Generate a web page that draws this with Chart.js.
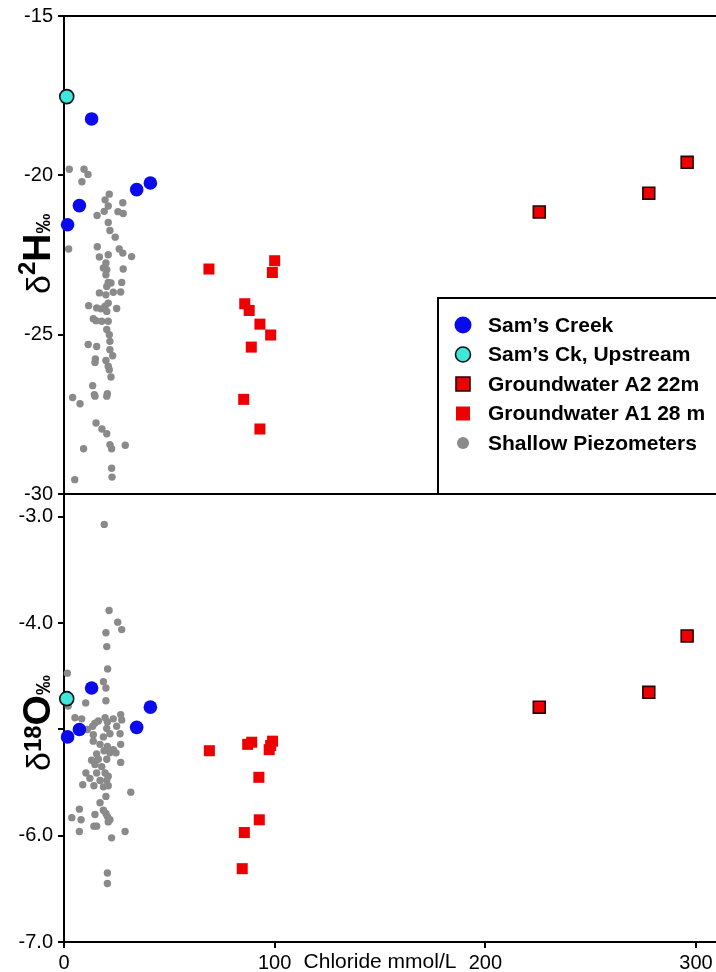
<!DOCTYPE html>
<html>
<head>
<meta charset="utf-8">
<script src="https://cdn.jsdelivr.net/npm/chart.js@4.4.1/dist/chart.umd.min.js"></script>
<style>
  body { margin: 0; background: #fff; }
  #wrap { position: relative; width: 716px; height: 972px; overflow: hidden; }
  canvas { position: absolute; left: 0; }
  #h-chart { top: -10px; }
  #o-chart { top: 470px; }
</style>
</head>
<body>
<div id="wrap">
  <canvas id="h-chart" width="716" height="530"></canvas>
  <canvas id="o-chart" width="716" height="502"></canvas>
</div>
<script>
// Sam's Creek surface water
var creekCl   = [13.1, 7.3, 1.7, 34.5, 41.0];
var creekD2H  = [-18.23, -20.95, -21.55, -20.45, -20.24];
var creekD18O = [-4.61, -5.00, -5.07, -4.98, -4.79];

// Sam's Ck upstream
var upstreamCl   = [1.3];
var upstreamD2H  = [-17.53];
var upstreamD18O = [-4.71];

// Groundwater A2 (22 m)
var a2Cl   = [225.6, 277.6, 295.8];
var a2D2H  = [-21.15, -20.56, -19.59];
var a2D18O = [-4.79, -4.65, -4.12];

// Groundwater A1 (28 m)
var a1ClH  = [68.8, 100.0, 98.9, 85.8, 87.9, 93.0, 98.1, 88.9, 85.3, 93.0];
var a1D2H  = [-22.94, -22.68, -23.05, -24.03, -24.24, -24.67, -25.01, -25.39, -27.03, -27.96];
var a1ClO  = [69.0, 87.2, 89.1, 99.0, 97.4, 98.1, 92.5, 92.7, 85.6, 84.6];
var a1D18O = [-5.20, -5.14, -5.12, -5.11, -5.19, -5.15, -5.45, -5.85, -5.97, -6.31];

// Shallow piezometers
var piezoClH = [2.5, 9.5, 11.4, 8.5, 21.5, 19.5, 21.0, 19.1, 27.9, 15.7,
  25.6, 28.1, 21.0, 21.8, 24.3, 2.2, 15.8, 26.2, 21.0, 27.9,
  16.8, 32.1, 19.9, 20.3, 18.7, 28.1, 19.9, 21.0, 22.3, 27.4,
  20.3, 16.8, 23.4, 26.9, 19.9, 11.7, 15.5, 17.6, 19.5, 21.0,
  20.3, 25.0, 13.9, 15.2, 17.9, 21.0, 20.3, 21.5, 11.5, 15.5,
  21.8, 21.8, 23.1, 14.9, 14.7, 19.9, 21.0, 21.5, 22.3, 13.6,
  14.4, 14.7, 20.6, 20.3, 4.1, 7.6, 15.2, 18.0, 20.3, 21.8,
  22.6, 29.1, 9.3, 22.6, 22.8, 5.1];
var piezoD2H = [-19.81, -19.81, -19.97, -20.20, -20.59, -20.77, -20.96, -21.13, -20.86, -21.26,
  -21.14, -21.20, -21.48, -21.73, -21.94, -22.31, -22.24, -22.31, -22.49, -22.44,
  -22.56, -22.55, -22.75, -22.96, -22.91, -22.94, -23.12, -23.36, -23.38, -23.36,
  -23.49, -23.69, -23.67, -23.66, -23.75, -24.09, -24.16, -24.19, -24.11, -24.01,
  -24.27, -24.18, -24.50, -24.56, -24.58, -24.58, -24.84, -25.00, -25.31, -25.37,
  -25.21, -25.47, -25.66, -25.76, -25.87, -25.81, -25.99, -26.10, -26.33, -26.60,
  -26.88, -26.93, -26.85, -26.93, -26.97, -27.17, -27.77, -27.96, -28.11, -28.45,
  -28.58, -28.47, -28.58, -29.19, -29.47, -29.55];
var piezoClO = [19.1, 21.4, 25.5, 27.4, 19.9, 20.3, 20.7, 1.6, 18.7, 19.9,
  2.0, 10.3, 19.9, 5.2, 8.4, 14.7, 16.3, 19.5, 20.6, 23.4,
  26.9, 27.4, 25.0, 11.1, 13.6, 20.3, 26.6, 13.9, 18.7, 21.8,
  13.9, 17.1, 20.6, 19.0, 23.4, 26.9, 15.5, 21.8, 24.7, 13.1,
  16.3, 20.3, 26.9, 14.7, 17.9, 10.4, 15.5, 19.5, 21.0, 12.3,
  17.1, 20.3, 8.9, 14.2, 18.7, 21.0, 31.7, 19.9, 17.1, 7.3,
  18.7, 19.9, 14.7, 3.7, 8.1, 20.6, 21.8, 21.0, 15.5, 14.2,
  7.3, 29.0, 22.6, 20.6, 20.6];
var piezoD18O = [-3.07, -3.88, -3.99, -4.06, -4.09, -4.22, -4.43, -4.47, -4.55, -4.61,
  -4.78, -4.75, -4.73, -4.89, -4.90, -4.94, -4.92, -4.89, -4.93, -4.90,
  -4.86, -4.91, -4.97, -5.00, -4.97, -4.99, -5.04, -5.05, -5.07, -5.04,
  -5.11, -5.14, -5.16, -5.20, -5.19, -5.14, -5.23, -5.22, -5.22, -5.29,
  -5.28, -5.28, -5.31, -5.33, -5.35, -5.41, -5.41, -5.41, -5.44, -5.46,
  -5.48, -5.48, -5.52, -5.53, -5.54, -5.53, -5.59, -5.63, -5.69, -5.75,
  -5.76, -5.79, -5.80, -5.83, -5.85, -5.82, -5.85, -5.87, -5.91, -5.91,
  -5.96, -5.96, -6.02, -6.35, -6.45];

var seriesNames = ['Sam\u2019s Creek', 'Sam\u2019s Ck, Upstream', 'Groundwater A2 22m', 'Groundwater A1 28 m', 'Shallow Piezometers'];

// axis ticks
var xTicks = [0, 100, 200, 300];
var xTickLabels = ['0', '100', '200', '300'];
var hTicks = [-30, -25, -20, -15];
var hTickLabels = ['-30', '-25', '-20', '-15'];
var oTicks = [-7, -6, -5, -4, -3];
var oTickLabels = ['-7.0', '-6.0', '', '-4.0', '-3.0'];

var FONT = '"Liberation Sans", Arial, Helvetica, sans-serif';
Chart.defaults.font.family = FONT;
Chart.defaults.font.size = 20;
Chart.defaults.color = '#000';

function pts(xs, ys) {
  return xs.map(function (x, i) { return { x: x, y: ys[i] }; });
}

var styles = [
  { pointStyle: 'circle', pointRadius: 6.8, backgroundColor: '#0a0aec', borderColor: '#0a0aec', borderWidth: 0 },
  { pointStyle: 'circle', pointRadius: 7, backgroundColor: '#3fe6dc', borderColor: '#111', borderWidth: 1.6 },
  { pointStyle: 'rect', pointRadius: 8.4, backgroundColor: '#ee0000', borderColor: '#2a0000', borderWidth: 1.6 },
  { pointStyle: 'rect', pointRadius: 7.8, backgroundColor: '#ee0000', borderColor: '#ee0000', borderWidth: 0 },
  { pointStyle: 'circle', pointRadius: 3.7, backgroundColor: '#8a8a8a', borderColor: '#8a8a8a', borderWidth: 0 }
];

function makeDatasets(series) {
  return series.map(function (data, i) {
    var s = styles[i];
    return {
      label: seriesNames[i],
      data: data,
      pointStyle: s.pointStyle,
      pointRadius: s.pointRadius,
      pointHoverRadius: s.pointRadius,
      backgroundColor: s.backgroundColor,
      borderColor: s.borderColor,
      borderWidth: s.borderWidth,
      showLine: false,
      clip: false
    };
  });
}

// rotated axis title with superscript parts, drawn bottom to top
function drawVerticalTitle(ctx, pieces, x, yStart) {
  ctx.save();
  ctx.translate(x, yStart);
  ctx.rotate(-Math.PI / 2);
  ctx.fillStyle = '#000';
  ctx.textBaseline = 'alphabetic';
  ctx.textAlign = 'left';
  var cx = 0;
  pieces.forEach(function (p) {
    ctx.font = p.font;
    ctx.fillText(p.text, cx, -p.raise);
    cx += ctx.measureText(p.text).width;
  });
  ctx.restore();
}

// title offset is measured from the top of the plot area
var titlePlugin = {
  id: 'panelTitle',
  afterDraw: function (chart) {
    var opts = chart.options.plugins.panelTitle;
    drawVerticalTitle(chart.ctx, opts.pieces, opts.x, chart.chartArea.top + opts.dy);
  }
};

var frameTopPlugin = {
  id: 'frameTop',
  afterDraw: function (chart) {
    var a = chart.chartArea, ctx = chart.ctx;
    ctx.save();
    ctx.strokeStyle = '#000';
    ctx.lineWidth = 2;
    ctx.beginPath();
    ctx.moveTo(a.left - 1, a.top);
    ctx.lineTo(a.right + 2, a.top);
    ctx.stroke();
    ctx.restore();
  }
};

var legendPlugin = {
  id: 'boxLegend',
  afterDatasetsDraw: function (chart) {
    var ctx = chart.ctx, a = chart.chartArea;
    var left = 438, top = a.top + 282;
    ctx.save();
    ctx.fillStyle = '#fff';
    ctx.fillRect(left, top, a.right - left + 4, a.bottom - top - 1);
    ctx.strokeStyle = '#000';
    ctx.lineWidth = 2;
    ctx.beginPath();
    ctx.moveTo(left, a.bottom);
    ctx.lineTo(left, top);
    ctx.lineTo(a.right + 2, top);
    ctx.stroke();
    var sizes = [8.5, 7.5, 7, 7, 6];
    chart.data.datasets.forEach(function (ds, i) {
      var y = top + 27 + i * 29.5, x = 463, r = sizes[i];
      ctx.fillStyle = ds.backgroundColor;
      ctx.strokeStyle = ds.borderColor;
      ctx.lineWidth = ds.borderWidth || 0;
      ctx.beginPath();
      if (ds.pointStyle === 'rect') ctx.rect(x - r, y - r, 2 * r, 2 * r);
      else ctx.arc(x, y, r, 0, Math.PI * 2);
      ctx.fill();
      if (ds.borderWidth) ctx.stroke();
      ctx.fillStyle = '#000';
      ctx.font = 'bold 21px ' + FONT;
      ctx.textBaseline = 'middle';
      ctx.textAlign = 'left';
      ctx.fillText(ds.label, 488, y + 1);
    });
    ctx.restore();
  }
};

// axis name sits on the tick-label row, between 100 and 200
var xTitlePlugin = {
  id: 'xTitle',
  afterDraw: function (chart) {
    var ctx = chart.ctx, xs = chart.scales.x;
    ctx.save();
    ctx.fillStyle = '#000';
    ctx.font = '21px ' + FONT;
    ctx.textAlign = 'center';
    ctx.textBaseline = 'alphabetic';
    ctx.fillText('Chloride mmol/L', xs.getPixelForValue(150), chart.chartArea.bottom + 26);
    ctx.restore();
  }
};

var axisLine = { display: true, color: '#000', width: 2 };
var tickGrid = { display: true, drawOnChartArea: false, drawTicks: true, tickLength: 6, color: '#000', lineWidth: 2 };

function yScale(min, max, ticks, labels) {
  return {
    type: 'linear',
    min: min,
    max: max,
    border: axisLine,
    grid: tickGrid,
    ticks: {
      padding: 5,
      font: { size: 20 },
      color: '#000',
      callback: function (v, i) { return labels[i]; }
    },
    afterBuildTicks: function (scale) {
      scale.ticks = ticks.map(function (v) { return { value: v }; });
    },
    afterFit: function (scale) { scale.width = 64; }
  };
}

var baseOptions = {
  responsive: false,
  animation: false,
  events: [],
  plugins: { legend: { display: false }, tooltip: { enabled: false } }
};

// δ2H panel
var hCtx = document.getElementById('h-chart').getContext('2d');
var hChart = new Chart(hCtx, {
  type: 'scatter',
  data: {
    datasets: makeDatasets([
      pts(creekCl, creekD2H),
      pts(upstreamCl, upstreamD2H),
      pts(a2Cl, a2D2H),
      pts(a1ClH, a1D2H),
      pts(piezoClH, piezoD2H)
    ])
  },
  options: Object.assign({}, baseOptions, {
    layout: { autoPadding: false, padding: { top: 26, right: 0, left: 0, bottom: 0 } },
    scales: {
      x: {
        type: 'linear',
        min: 0,
        max: 309.5,
        border: axisLine,
        grid: { display: false },
        ticks: { display: false },
        afterFit: function (scale) { scale.height = 26; }
      },
      y: yScale(-30, -15, hTicks, hTickLabels)
    },
    plugins: Object.assign({}, baseOptions.plugins, {
      panelTitle: {
        x: 50, dy: 278,
        pieces: [
          { text: '\u03B4', font: '34px ' + FONT, raise: 0 },
          { text: '2', font: 'bold 24px ' + FONT, raise: 15 },
          { text: 'H', font: 'bold 39px ' + FONT, raise: 0 },
          { text: '\u2030', font: 'bold 20px ' + FONT, raise: 0 }
        ]
      }
    })
  }),
  plugins: [legendPlugin, frameTopPlugin, titlePlugin]
});

// δ18O panel
var oCtx = document.getElementById('o-chart').getContext('2d');
var oChart = new Chart(oCtx, {
  type: 'scatter',
  data: {
    datasets: makeDatasets([
      pts(creekCl, creekD18O),
      pts(upstreamCl, upstreamD18O),
      pts(a2Cl, a2D18O),
      pts(a1ClO, a1D18O),
      pts(piezoClO, piezoD18O)
    ])
  },
  options: Object.assign({}, baseOptions, {
    layout: { autoPadding: false, padding: { top: 24, right: 0, left: 0, bottom: 0 } },
    scales: {
      x: {
        type: 'linear',
        min: 0,
        max: 309.5,
        border: axisLine,
        grid: tickGrid,
        ticks: {
          padding: 3,
          font: { size: 20 },
          color: '#000',
          maxRotation: 0,
          callback: function (v, i) { return xTickLabels[i]; }
        },
        afterBuildTicks: function (scale) {
          scale.ticks = xTicks.map(function (v) { return { value: v }; });
        },
        afterFit: function (scale) { scale.height = 30; }
      },
      y: yScale(-7, -2.784, oTicks, oTickLabels)
    },
    plugins: Object.assign({}, baseOptions.plugins, {
      panelTitle: {
        x: 50, dy: 277,
        pieces: [
          { text: '\u03B4', font: '34px ' + FONT, raise: 0 },
          { text: '18', font: 'bold 24px ' + FONT, raise: 9 },
          { text: 'O', font: 'bold 39px ' + FONT, raise: 0 },
          { text: '\u2030', font: 'bold 20px ' + FONT, raise: 0 }
        ]
      }
    })
  }),
  plugins: [xTitlePlugin, titlePlugin]
});
</script>
</body>
</html>
